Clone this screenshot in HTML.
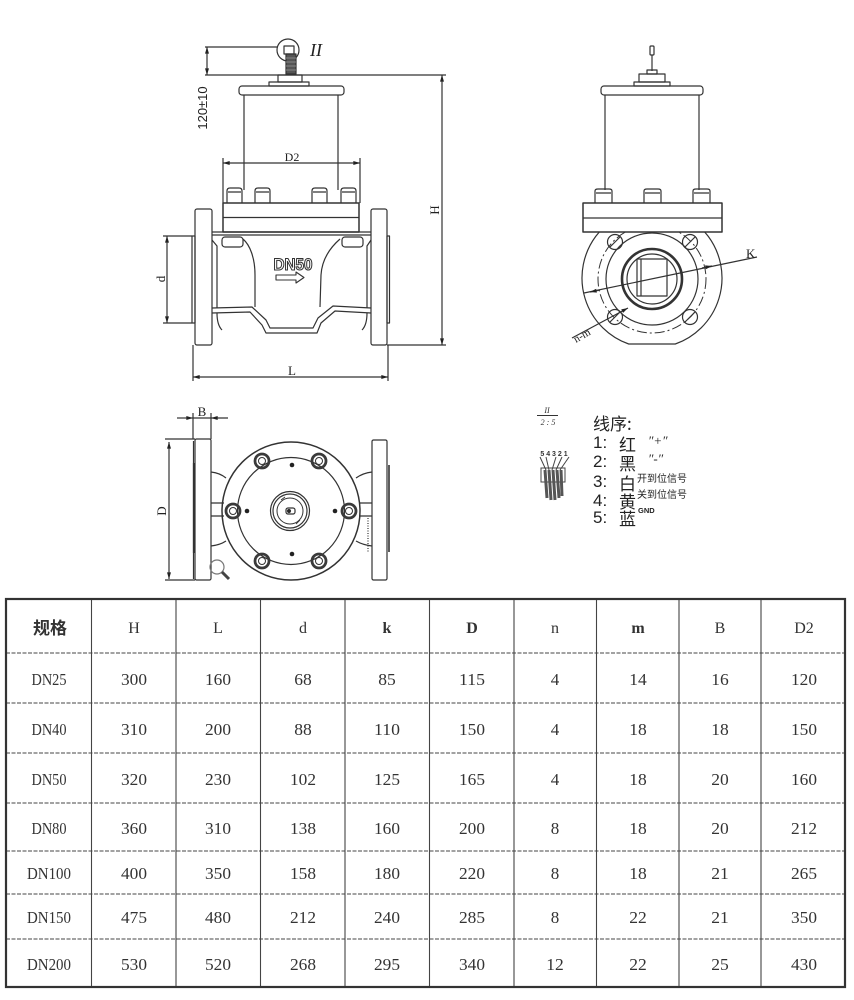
<!DOCTYPE html>
<html><head><meta charset="utf-8"><style>
html,body{margin:0;padding:0;background:#fff;width:854px;height:1000px;overflow:hidden}
svg{display:block}
</style></head><body>
<svg width="854" height="1000" viewBox="0 0 854 1000" xmlns="http://www.w3.org/2000/svg">
<defs>
<marker id="a" viewBox="0 0 10 6" refX="10" refY="3" markerWidth="8" markerHeight="4" orient="auto-start-reverse" markerUnits="userSpaceOnUse"><path d="M0 0L10 3L0 6z" fill="#222"/></marker>
</defs>
<rect width="854" height="1000" fill="#fff"/>

<!-- ================= FRONT VIEW ================= -->
<g fill="none" stroke="#333" stroke-width="1.2" stroke-linejoin="round">
  <circle cx="288" cy="50" r="11"/>
  <rect x="284" y="46" width="10" height="8"/>
  <rect x="286" y="54" width="10" height="20" fill="#555"/>
  <path d="M286 58h10M286 62h10M286 66h10M286 70h10" stroke="#999" stroke-width="0.8"/>
  <line x1="205" y1="47" x2="278" y2="47"/>
  <line x1="205" y1="75" x2="446" y2="75"/>
  <line x1="207" y1="47" x2="207" y2="75" marker-start="url(#a)" marker-end="url(#a)"/>
  <rect x="278" y="75" width="24" height="7"/>
  <rect x="269" y="82" width="40" height="4"/>
  <rect x="239" y="86" width="105" height="9" rx="3"/>
  <line x1="244" y1="95" x2="244" y2="190"/>
  <line x1="338" y1="95" x2="338" y2="190"/>
  <line x1="223" y1="163" x2="360" y2="163" marker-start="url(#a)" marker-end="url(#a)"/>
  <line x1="223" y1="158" x2="223" y2="203"/>
  <line x1="360" y1="158" x2="360" y2="203"/>
  <path d="M227 203V191Q227 188 230 188H239Q242 188 242 191V203M228 192H241"/>
  <path d="M255 203V191Q255 188 258 188H267Q270 188 270 191V203M256 192H269"/>
  <path d="M312 203V191Q312 188 315 188H324Q327 188 327 191V203M313 192H326"/>
  <path d="M341 203V191Q341 188 344 188H353Q356 188 356 191V203M342 192H355"/>
  <rect x="223" y="203" width="136" height="29" stroke-width="1.5"/>
  <line x1="223" y1="217.5" x2="359" y2="217.5"/>
  <rect x="195" y="209" width="17" height="136" rx="2"/>
  <rect x="371" y="209" width="16" height="136" rx="2"/>
  <rect x="192" y="236" width="3" height="87"/>
  <rect x="387" y="236" width="2.5" height="87"/>
  <path d="M212 232H371M212 235H371"/>
  <rect x="222" y="237" width="21" height="10" rx="3"/>
  <rect x="342" y="237" width="21" height="10" rx="3"/>
  <path d="M212 240L217 246V308M371 240L367 246V308"/>
  <path d="M243 239C250 245 255 258 255 275L255 307"/>
  <path d="M340 239C332 246 322 258 321 275L320 307"/>
  <path d="M212 308L252 307L266 320L270 328H313L318 318L333 306L371 308"/>
  <path d="M212 313L250 312L262 325L266 333H317L321 323L335 311L371 313"/>
  <path d="M217 313Q217 325 222 330M367 313Q367 325 362 330"/>
  <path d="M276 275H296V272L304 277.5L296 283V280H276Z" stroke-width="1.1"/>
  <line x1="442" y1="75" x2="442" y2="345" marker-start="url(#a)" marker-end="url(#a)"/>
  <line x1="387" y1="345" x2="446" y2="345"/>
  <line x1="193" y1="377" x2="388" y2="377" marker-start="url(#a)" marker-end="url(#a)"/>
  <path d="M193 345V381M388 345V381"/>
  <line x1="167" y1="236" x2="167" y2="323" marker-start="url(#a)" marker-end="url(#a)"/>
  <path d="M163 236H192M163 323H192"/>
</g>
<g font-family="Liberation Serif, serif" fill="#222">
  <text x="310" y="56" font-size="18" font-style="italic">II</text>
  <text x="0" y="0" font-size="13" font-family="Liberation Sans, sans-serif" text-anchor="middle" transform="translate(207 108) rotate(-90)">120±10</text>
  <text x="292" y="161" font-size="12" text-anchor="middle">D2</text>
  <text x="0" y="0" font-size="13" text-anchor="middle" transform="translate(439 210) rotate(-90)">H</text>
  <text x="292" y="375" font-size="13" text-anchor="middle">L</text>
  <text x="0" y="0" font-size="13" text-anchor="middle" transform="translate(165 279) rotate(-90)">d</text>
  <text x="293" y="270" font-size="17" font-weight="bold" font-family="Liberation Sans, sans-serif" text-anchor="middle" fill="#fff" stroke="#333" stroke-width="1.1" textLength="39" lengthAdjust="spacingAndGlyphs">DN50</text>
</g>

<!-- ================= SIDE VIEW (right) ================= -->
<g fill="none" stroke="#333" stroke-width="1.2" stroke-linejoin="round">
  <rect x="650" y="46" width="4" height="9" rx="1"/>
  <line x1="652" y1="55" x2="652" y2="71"/>
  <rect x="647" y="70" width="10" height="4"/>
  <rect x="639" y="74" width="26" height="8"/>
  <rect x="634" y="82" width="36" height="4"/>
  <rect x="601" y="86" width="102" height="9" rx="3"/>
  <line x1="605" y1="95" x2="605" y2="190"/>
  <line x1="699" y1="95" x2="699" y2="190"/>
  <path d="M628.7 344A70 70 0 1 1 675.3 344Z"/>
  <circle cx="652" cy="279" r="54" stroke-dasharray="10 3 2 3" stroke-width="1"/>
  <circle cx="652" cy="279" r="46"/>
  <circle cx="652" cy="279" r="30" stroke-width="2.6"/>
  <circle cx="652" cy="279" r="25"/>
  <rect x="637" y="259" width="30" height="37"/>
  <line x1="641" y1="259" x2="641" y2="296"/>
  <circle cx="615" cy="242" r="7.5"/><line x1="610" y1="247" x2="620" y2="237"/>
  <circle cx="690" cy="242" r="7.5"/><line x1="685" y1="247" x2="695" y2="237"/>
  <circle cx="615" cy="317" r="7.5"/><line x1="610" y1="322" x2="620" y2="312"/>
  <circle cx="690" cy="317" r="7.5"/><line x1="685" y1="322" x2="695" y2="312"/>
  <rect x="583" y="203" width="139" height="29" fill="#fff" stroke-width="1.5"/>
  <line x1="583" y1="218" x2="722" y2="218"/>
  <path d="M595 203V191Q595 189 598 189H609Q612 189 612 191V203M596 193H611"/>
  <path d="M644 203V191Q644 189 647 189H658Q661 189 661 191V203M645 193H660"/>
  <path d="M693 203V191Q693 189 696 189H707Q710 189 710 191V203M694 193H709"/>
  <line x1="584" y1="293" x2="757" y2="257"/>
  <line x1="600" y1="290" x2="590" y2="292" marker-end="url(#a)"/>
  <line x1="702" y1="268" x2="712" y2="266" marker-end="url(#a)"/>
  <line x1="572" y1="338" x2="628" y2="308" marker-end="url(#a)"/>
</g>
<g font-family="Liberation Serif, serif" fill="#222">
  <text x="746" y="258" font-size="13">K</text>
  <text x="0" y="0" font-size="11" transform="translate(576 343) rotate(-30)">n-m</text>
</g>

<!-- ================= TOP VIEW (bottom left) ================= -->
<g fill="none" stroke="#333" stroke-width="1.2" stroke-linejoin="round">
  <line x1="177" y1="418" x2="193" y2="418" marker-end="url(#a)"/>
  <line x1="228" y1="418" x2="211" y2="418" marker-end="url(#a)"/>
  <line x1="193" y1="418" x2="211" y2="418"/>
  <path d="M193 413V439M211 413V439"/>
  <rect x="195" y="439" width="16" height="141" rx="1.5"/>
  <line x1="193.5" y1="441" x2="193.5" y2="579"/>
  <line x1="194" y1="463" x2="194" y2="553" stroke-width="2.2"/>
  <line x1="169" y1="442" x2="169" y2="579" marker-start="url(#a)" marker-end="url(#a)"/>
  <path d="M165 439H195M165 580H195"/>
  <path d="M211 472Q220 473 226 478M211 546Q220 545 226 541M211 503H224M211 516H224"/>
  <path d="M372 472Q363 473 356 478M372 546Q363 545 356 541M372 503H359M372 516H359"/>
  <rect x="372" y="440" width="15" height="140" rx="1.5"/>
  <line x1="389" y1="465" x2="389" y2="552" stroke-width="1.6"/>
  <line x1="368" y1="518" x2="368" y2="552" stroke-dasharray="1 1.5"/>
  <circle cx="291" cy="511" r="69" stroke-width="1.5"/>
  <circle cx="291" cy="511" r="53.5"/>
  <g stroke-width="2.8" stroke="#3a3a3a">
    <circle cx="262" cy="461" r="7"/><circle cx="319" cy="461" r="7"/>
    <circle cx="233" cy="511" r="7"/><circle cx="349" cy="511" r="7"/>
    <circle cx="262" cy="561" r="7"/><circle cx="319" cy="561" r="7"/>
  </g>
  <g stroke-width="1">
    <circle cx="262" cy="461" r="3.5"/><circle cx="319" cy="461" r="3.5"/>
    <circle cx="233" cy="511" r="3.5"/><circle cx="349" cy="511" r="3.5"/>
    <circle cx="262" cy="561" r="3.5"/><circle cx="319" cy="561" r="3.5"/>
  </g>
  <g fill="#222" stroke="none">
    <circle cx="292" cy="465" r="2.3"/><circle cx="247" cy="511" r="2.3"/>
    <circle cx="335" cy="511" r="2.3"/><circle cx="292" cy="554" r="2.3"/>
  </g>
  <circle cx="290" cy="511" r="19.5"/>
  <circle cx="290" cy="511" r="17"/>
  <circle cx="290" cy="511" r="13" stroke-width="1"/>
  <rect x="286" y="508" width="9" height="6" rx="2"/>
  <circle cx="289" cy="511" r="1.5" fill="#222"/>
  <path d="M296 524l4-4M281 500l4-3" stroke-width="0.9"/>
  <circle cx="217" cy="567" r="7" stroke="#777"/>
  <line x1="222" y1="572" x2="229" y2="579" stroke="#444" stroke-width="3"/>
</g>
<g font-family="Liberation Serif, serif" fill="#222">
  <text x="202" y="416" font-size="13" text-anchor="middle">B</text>
  <text x="0" y="0" font-size="13" text-anchor="middle" transform="translate(166 511) rotate(-90)">D</text>
</g>

<!-- ================= LEGEND ================= -->
<g fill="#333" font-family="Liberation Serif, serif">
  <text x="547" y="413" font-size="8" font-style="italic" text-anchor="middle">II</text>
  <line x1="537" y1="415.5" x2="558" y2="415.5" stroke="#333" stroke-width="1"/>
  <text x="548" y="425" font-size="8" font-style="italic" text-anchor="middle">2 : 5</text>
  <text x="554" y="456" font-size="7" font-weight="bold" font-family="Liberation Sans, sans-serif" text-anchor="middle">5 4 3 2 1</text>
</g>
<g fill="none" stroke="#444">
  <path d="M540 457L546 470M546 457L549 470M556 457L552 470M562 457L556 470M569 457L560 470" stroke-width="1"/>
  <rect x="541" y="468" width="24" height="14" stroke-width="1"/>
  <path d="M545 470L547 498M549 470L551 500M553 470L555 500M557 470L559 498M561 470L562 496" stroke="#555" stroke-width="3"/>
</g>
<g fill="#222" font-family="Liberation Sans, 'Noto Sans CJK SC', sans-serif">
  <text x="593" y="430" font-size="17" font-family="'Noto Sans CJK SC', sans-serif">线序:</text>
  <text x="593" y="448" font-size="17">1:</text>
  <text x="593" y="467" font-size="17">2:</text>
  <text x="593" y="487" font-size="17">3:</text>
  <text x="593" y="506" font-size="17">4:</text>
  <text x="593" y="523" font-size="17">5:</text>
  <g font-family="'Noto Sans CJK SC', sans-serif" font-size="17">
    <text x="619" y="451">红</text>
    <text x="619" y="470">黑</text>
    <text x="619" y="490">白</text>
    <text x="619" y="508">黄</text>
    <text x="619" y="525">蓝</text>
  </g>
  <text x="648" y="445" font-size="13" font-style="italic" font-family="Liberation Serif, serif">″+″</text>
  <text x="648" y="463" font-size="13" font-style="italic" font-family="Liberation Serif, serif">″-″</text>
  <text x="637" y="482" font-size="10" font-family="'Noto Sans CJK SC', sans-serif">开到位信号</text>
  <text x="637" y="498" font-size="10" font-family="'Noto Sans CJK SC', sans-serif">关到位信号</text>
  <text x="638" y="513" font-size="7.5" font-weight="bold">GND</text>
</g>

<!-- ================= TABLE ================= -->
<g stroke="#444" fill="none">
  <g stroke-width="1.1">
    <path d="M91.5 599V987M176 599V987M260.5 599V987M345 599V987M429.5 599V987M514 599V987M596.5 599V987M679 599V987M761 599V987"/>
  </g>
  <g stroke-width="1.1" stroke-dasharray="4 1.5">
    <path d="M6 653H845M6 703H845M6 753H845M6 803H845M6 851H845M6 894H845M6 939H845"/>
  </g>
  <rect x="6" y="599" width="839" height="388" stroke="#333" stroke-width="2.2"/>
</g>
<g fill="#333" font-family="Liberation Serif, serif" font-size="17" text-anchor="middle">
  <text x="50" y="634" font-family="'Noto Sans CJK SC', sans-serif" font-weight="bold" font-size="17">规格</text>
  <text x="134" y="633" font-size="16">H</text>
  <text x="218" y="633" font-size="16">L</text>
  <text x="303" y="633" font-size="16">d</text>
  <text x="387" y="633" font-size="16" font-weight="bold">k</text>
  <text x="472" y="633" font-size="16" font-weight="bold">D</text>
  <text x="555" y="633" font-size="16">n</text>
  <text x="638" y="633" font-size="16" font-weight="bold">m</text>
  <text x="720" y="633" font-size="16">B</text>
  <text x="804" y="633" font-size="16">D2</text>

  <text x="49" y="685" textLength="35" lengthAdjust="spacingAndGlyphs">DN25</text>
  <text x="134" y="685" textLength="26" lengthAdjust="spacingAndGlyphs">300</text>
  <text x="218" y="685" textLength="26" lengthAdjust="spacingAndGlyphs">160</text>
  <text x="303" y="685" textLength="17.5" lengthAdjust="spacingAndGlyphs">68</text>
  <text x="387" y="685" textLength="17.5" lengthAdjust="spacingAndGlyphs">85</text>
  <text x="472" y="685" textLength="26" lengthAdjust="spacingAndGlyphs">115</text>
  <text x="555" y="685">4</text>
  <text x="638" y="685" textLength="17.5" lengthAdjust="spacingAndGlyphs">14</text>
  <text x="720" y="685" textLength="17.5" lengthAdjust="spacingAndGlyphs">16</text>
  <text x="804" y="685" textLength="26" lengthAdjust="spacingAndGlyphs">120</text>

  <text x="49" y="735" textLength="35" lengthAdjust="spacingAndGlyphs">DN40</text>
  <text x="134" y="735" textLength="26" lengthAdjust="spacingAndGlyphs">310</text>
  <text x="218" y="735" textLength="26" lengthAdjust="spacingAndGlyphs">200</text>
  <text x="303" y="735" textLength="17.5" lengthAdjust="spacingAndGlyphs">88</text>
  <text x="387" y="735" textLength="26" lengthAdjust="spacingAndGlyphs">110</text>
  <text x="472" y="735" textLength="26" lengthAdjust="spacingAndGlyphs">150</text>
  <text x="555" y="735">4</text>
  <text x="638" y="735" textLength="17.5" lengthAdjust="spacingAndGlyphs">18</text>
  <text x="720" y="735" textLength="17.5" lengthAdjust="spacingAndGlyphs">18</text>
  <text x="804" y="735" textLength="26" lengthAdjust="spacingAndGlyphs">150</text>

  <text x="49" y="785" textLength="35" lengthAdjust="spacingAndGlyphs">DN50</text>
  <text x="134" y="785" textLength="26" lengthAdjust="spacingAndGlyphs">320</text>
  <text x="218" y="785" textLength="26" lengthAdjust="spacingAndGlyphs">230</text>
  <text x="303" y="785" textLength="26" lengthAdjust="spacingAndGlyphs">102</text>
  <text x="387" y="785" textLength="26" lengthAdjust="spacingAndGlyphs">125</text>
  <text x="472" y="785" textLength="26" lengthAdjust="spacingAndGlyphs">165</text>
  <text x="555" y="785">4</text>
  <text x="638" y="785" textLength="17.5" lengthAdjust="spacingAndGlyphs">18</text>
  <text x="720" y="785" textLength="17.5" lengthAdjust="spacingAndGlyphs">20</text>
  <text x="804" y="785" textLength="26" lengthAdjust="spacingAndGlyphs">160</text>

  <text x="49" y="834" textLength="35" lengthAdjust="spacingAndGlyphs">DN80</text>
  <text x="134" y="834" textLength="26" lengthAdjust="spacingAndGlyphs">360</text>
  <text x="218" y="834" textLength="26" lengthAdjust="spacingAndGlyphs">310</text>
  <text x="303" y="834" textLength="26" lengthAdjust="spacingAndGlyphs">138</text>
  <text x="387" y="834" textLength="26" lengthAdjust="spacingAndGlyphs">160</text>
  <text x="472" y="834" textLength="26" lengthAdjust="spacingAndGlyphs">200</text>
  <text x="555" y="834">8</text>
  <text x="638" y="834" textLength="17.5" lengthAdjust="spacingAndGlyphs">18</text>
  <text x="720" y="834" textLength="17.5" lengthAdjust="spacingAndGlyphs">20</text>
  <text x="804" y="834" textLength="26" lengthAdjust="spacingAndGlyphs">212</text>

  <text x="49" y="879" textLength="44" lengthAdjust="spacingAndGlyphs">DN100</text>
  <text x="134" y="879" textLength="26" lengthAdjust="spacingAndGlyphs">400</text>
  <text x="218" y="879" textLength="26" lengthAdjust="spacingAndGlyphs">350</text>
  <text x="303" y="879" textLength="26" lengthAdjust="spacingAndGlyphs">158</text>
  <text x="387" y="879" textLength="26" lengthAdjust="spacingAndGlyphs">180</text>
  <text x="472" y="879" textLength="26" lengthAdjust="spacingAndGlyphs">220</text>
  <text x="555" y="879">8</text>
  <text x="638" y="879" textLength="17.5" lengthAdjust="spacingAndGlyphs">18</text>
  <text x="720" y="879" textLength="17.5" lengthAdjust="spacingAndGlyphs">21</text>
  <text x="804" y="879" textLength="26" lengthAdjust="spacingAndGlyphs">265</text>

  <text x="49" y="923" textLength="44" lengthAdjust="spacingAndGlyphs">DN150</text>
  <text x="134" y="923" textLength="26" lengthAdjust="spacingAndGlyphs">475</text>
  <text x="218" y="923" textLength="26" lengthAdjust="spacingAndGlyphs">480</text>
  <text x="303" y="923" textLength="26" lengthAdjust="spacingAndGlyphs">212</text>
  <text x="387" y="923" textLength="26" lengthAdjust="spacingAndGlyphs">240</text>
  <text x="472" y="923" textLength="26" lengthAdjust="spacingAndGlyphs">285</text>
  <text x="555" y="923">8</text>
  <text x="638" y="923" textLength="17.5" lengthAdjust="spacingAndGlyphs">22</text>
  <text x="720" y="923" textLength="17.5" lengthAdjust="spacingAndGlyphs">21</text>
  <text x="804" y="923" textLength="26" lengthAdjust="spacingAndGlyphs">350</text>

  <text x="49" y="970" textLength="44" lengthAdjust="spacingAndGlyphs">DN200</text>
  <text x="134" y="970" textLength="26" lengthAdjust="spacingAndGlyphs">530</text>
  <text x="218" y="970" textLength="26" lengthAdjust="spacingAndGlyphs">520</text>
  <text x="303" y="970" textLength="26" lengthAdjust="spacingAndGlyphs">268</text>
  <text x="387" y="970" textLength="26" lengthAdjust="spacingAndGlyphs">295</text>
  <text x="472" y="970" textLength="26" lengthAdjust="spacingAndGlyphs">340</text>
  <text x="555" y="970" textLength="17.5" lengthAdjust="spacingAndGlyphs">12</text>
  <text x="638" y="970" textLength="17.5" lengthAdjust="spacingAndGlyphs">22</text>
  <text x="720" y="970" textLength="17.5" lengthAdjust="spacingAndGlyphs">25</text>
  <text x="804" y="970" textLength="26" lengthAdjust="spacingAndGlyphs">430</text>
</g>
</svg>
</body></html>
